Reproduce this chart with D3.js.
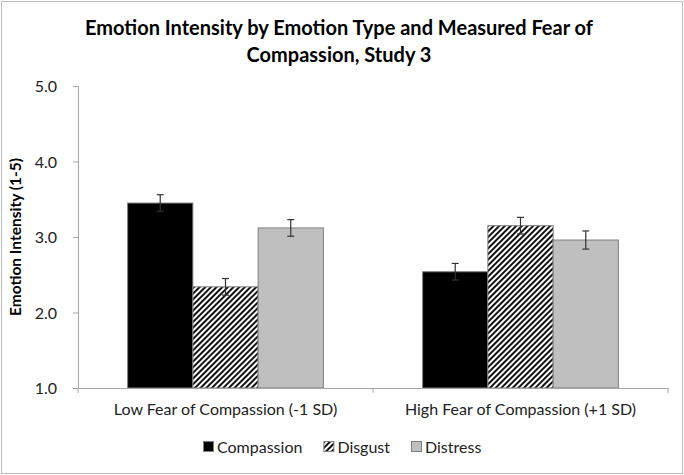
<!DOCTYPE html>
<html>
<head>
<meta charset="utf-8">
<script src="https://cdn.jsdelivr.net/npm/d3@7.9.0/dist/d3.min.js"></script>
<style>
  body { margin: 0; background: #fff; }
  text { font-family: Lato, "Open Sans", sans-serif; }
</style>
</head>
<body>
<svg id="chart" width="684" height="475"></svg>
<script>
// data
const groups = ['Low Fear of Compassion (-1 SD)', 'High Fear of Compassion (+1 SD)'];
const emotions = ['Compassion', 'Disgust', 'Distress'];
const means = [
  [3.45, 2.34, 3.12],
  [2.54, 3.15, 2.96]
];
const errors = [
  [0.11, 0.11, 0.11],
  [0.11, 0.11, 0.12]
];
const yTicks = [1, 2, 3, 4, 5];

const svg = d3.select('#chart');
const margin = { left: 78, right: 16, top: 86, bottom: 87 };
const width = 684, height = 475;

// pattern for the hatched bars
const defs = svg.append('defs');
const pat = defs.append('pattern')
  .attr('id', 'hatch')
  .attr('patternUnits', 'userSpaceOnUse')
  .attr('width', 4).attr('height', 4)
  .attr('patternTransform', 'rotate(45)');
pat.append('rect').attr('width', 4).attr('height', 4).attr('fill', '#fff');
pat.append('rect').attr('width', 2).attr('height', 4).attr('fill', '#111');

const fills = { Compassion: '#000', Disgust: 'url(#hatch)', Distress: '#bfbfbf' };

// outer frame
svg.append('rect')
  .attr('x', 1.5).attr('y', 1.5)
  .attr('width', width - 3).attr('height', height - 3)
  .attr('fill', 'none').attr('stroke', '#bcbcbc');

const x0 = d3.scaleBand().domain(groups)
  .range([margin.left, width - margin.right]);
const x1 = d3.scaleBand().domain(emotions)
  .range([0, x0.bandwidth()]).paddingInner(0).paddingOuter(0.76);
const y = d3.scaleLinear().domain([1, 5])
  .range([height - margin.bottom, margin.top]);

// title
svg.append('text')
  .attr('text-anchor', 'middle')
  .style('font-size', '20px').style('font-weight', 'bold')
  .selectAll('tspan')
  .data(['Emotion Intensity by Emotion Type and Measured Fear of', 'Compassion, Study 3'])
  .join('tspan')
  .attr('x', 339).attr('y', (d, i) => i ? 62 : 35)
  .text(d => d);

// y axis
const yAxis = svg.append('g')
  .attr('transform', `translate(${margin.left},0)`)
  .call(d3.axisLeft(y).tickValues(yTicks).tickFormat(d3.format('.1f')).tickSize(5).tickPadding(16));
yAxis.select('.domain').attr('stroke', '#a6a6a6');
yAxis.selectAll('.tick line').attr('stroke', '#a6a6a6');
yAxis.selectAll('.tick text')
  .style('font-size', '16px').attr('fill', '#222').attr('dy', '0.35em');

svg.append('text')
  .attr('transform', `translate(21,${(y(1) + y(5)) / 2}) rotate(-90)`)
  .attr('text-anchor', 'middle')
  .style('font-size', '15.5px').style('font-weight', 'bold')
  .text('Emotion Intensity (1-5)');

// bars
const g = svg.append('g');
groups.forEach((grp, gi) => {
  const rows = emotions.map((e, ei) => ({ e, v: means[gi][ei], err: errors[gi][ei] }));
  const gg = g.append('g').attr('transform', `translate(${x0(grp)},0)`);
  gg.selectAll('rect')
    .data(rows)
    .join('rect')
    .attr('x', d => x1(d.e))
    .attr('y', d => y(d.v))
    .attr('width', x1.bandwidth())
    .attr('height', d => y(1) - y(d.v))
    .attr('fill', d => fills[d.e])
    .attr('stroke', '#7f7f7f').attr('stroke-width', 1);

  // error bars
  const cx = d => x1(d.e) + x1.bandwidth() / 2;
  const eb = gg.selectAll('g.err')
    .data(rows)
    .join('g').attr('class', 'err')
    .attr('stroke', '#333').attr('stroke-width', 1.2);
  eb.append('line')
    .attr('x1', cx).attr('x2', cx)
    .attr('y1', d => y(d.v + d.err)).attr('y2', d => y(d.v - d.err));
  eb.append('line')
    .attr('x1', d => cx(d) - 3.5).attr('x2', d => cx(d) + 3.5)
    .attr('y1', d => y(d.v + d.err)).attr('y2', d => y(d.v + d.err));
  eb.append('line')
    .attr('x1', d => cx(d) - 3.5).attr('x2', d => cx(d) + 3.5)
    .attr('y1', d => y(d.v - d.err)).attr('y2', d => y(d.v - d.err));
});

// x axis
const xAxis = svg.append('g')
  .attr('transform', `translate(0,${y(1)})`)
  .call(d3.axisBottom(x0).tickSize(0).tickPadding(16));
xAxis.select('.domain').attr('stroke', '#a6a6a6');
xAxis.selectAll('.tick text').style('font-size', '16px').attr('fill', '#222');
// tick marks between categories
svg.append('g').selectAll('line')
  .data([x0.range()[0], x0(groups[1]), x0.range()[1]])
  .join('line')
  .attr('x1', d => d).attr('x2', d => d)
  .attr('y1', y(1)).attr('y2', y(1) + 5)
  .attr('stroke', '#a6a6a6');

// legend
const legend = svg.append('g').attr('transform', 'translate(203,447)');
let lx = 0;
emotions.forEach(e => {
  const item = legend.append('g').attr('transform', `translate(${lx},0)`);
  item.append('rect')
    .attr('x', 0.5).attr('y', -5.5).attr('width', 10).attr('height', 10)
    .attr('fill', fills[e]).attr('stroke', '#7f7f7f');
  const t = item.append('text')
    .attr('x', 14).attr('y', 0).attr('dy', '0.35em')
    .style('font-size', '16px').attr('fill', '#222')
    .text(e);
  lx += 14 + t.node().getComputedTextLength() + 21;
});
</script>
</body>
</html>
